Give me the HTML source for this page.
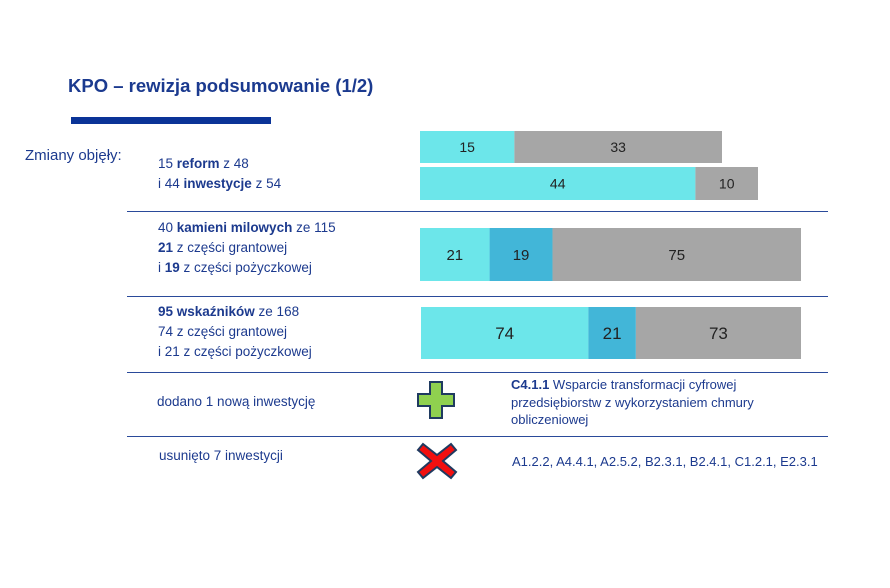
<!DOCTYPE html>
<html><head><meta charset="utf-8"><style>
body{margin:0;width:890px;height:588px;background:#fff;position:relative;overflow:hidden;font-family:"Liberation Sans",sans-serif;color:#1c3a8e}
.t{position:absolute;white-space:nowrap;font-size:13.5px;line-height:20px}
b{font-weight:bold}
.hr{position:absolute;left:127px;width:701px;height:1px;background:#2a4a9a}
</style></head><body>
<div class="t" style="left:68px;top:76px;font-size:18.5px;font-weight:bold;color:#1b3a8f">KPO – rewizja podsumowanie (1/2)</div>
<div style="position:absolute;left:71px;top:117px;width:200px;height:7px;background:#0a3397"></div>
<div class="t" style="left:25px;top:146px;font-size:15px">Zmiany objęły:</div>
<div class="t" style="left:158px;top:154px">15 <b>reform</b> z 48<br>i 44 <b>inwestycje</b> z 54</div>
<div class="t" style="left:158px;top:218px">40 <b>kamieni milowych</b> ze 115<br><b>21</b> z części grantowej<br>i <b>19</b> z części pożyczkowej</div>
<div class="t" style="left:158px;top:302px"><b>95 wskaźników</b> ze 168<br>74 z części grantowej<br>i 21 z części pożyczkowej</div>
<div class="t" style="left:157px;top:392px">dodano 1 nową inwestycję</div>
<div class="t" style="left:159px;top:446px">usunięto 7 inwestycji</div>
<div class="t" style="left:511px;top:376px;font-size:13px;line-height:17.5px"><b>C4.1.1</b> Wsparcie transformacji cyfrowej<br>przedsiębiorstw z wykorzystaniem chmury<br>obliczeniowej</div>
<div class="t" style="left:512px;top:452px;font-size:13px">A1.2.2, A4.4.1, A2.5.2, B2.3.1, B2.4.1, C1.2.1, E2.3.1</div>
<div class="hr" style="top:211px"></div>
<div class="hr" style="top:296px"></div>
<div class="hr" style="top:372px"></div>
<div class="hr" style="top:436px"></div>
<svg style="position:absolute;left:417px;top:381px" width="38" height="38"><polygon points="13,1 25,1 25,13 37,13 37,25 25,25 25,37 13,37 13,25 1,25 1,13 13,13" fill="#8fd14f" stroke="#1f3a60" stroke-width="2"/></svg>
<svg style="position:absolute;left:416px;top:442px" width="42" height="38"><polygon points="7,2 21,13 35,2 40,8 27,19 40,30 35,36 21,25 7,36 2,30 15,19 2,8" fill="#f20f0f" stroke="#1f3a60" stroke-width="2"/></svg>
<svg id="bars" style="position:absolute;left:0;top:0" width="890" height="588"></svg>
<script>
const rowTotals=[48,54,115,168];
const rowValues=[[15,33],[44,10],[21,19,75],[74,21,73]];
const rowColors=[["#6ce6ea","#a6a6a6"],["#6ce6ea","#a6a6a6"],["#6ce6ea","#42b6d8","#a6a6a6"],["#6ce6ea","#42b6d8","#a6a6a6"]];
const rowLayout=[{x:420,y:131,h:32,w:302,fs:14},{x:420,y:167,h:33,w:338,fs:14},{x:420,y:228,h:53,w:381,fs:15},{x:421,y:307,h:52,w:380,fs:17}];
const svg=document.getElementById('bars');const NS='http://www.w3.org/2000/svg';
rowValues.forEach((vals,i)=>{const L=rowLayout[i];const sc=v=>v/rowTotals[i]*L.w;let x=L.x;
vals.forEach((v,j)=>{const w=sc(v);const r=document.createElementNS(NS,'rect');


r.setAttribute('x',x);r.setAttribute('y',L.y);r.setAttribute('width',w);r.setAttribute('height',L.h);r.setAttribute('fill',rowColors[i][j]);svg.appendChild(r);
const t=document.createElementNS(NS,'text');


t.setAttribute('x',x+w/2);t.setAttribute('y',L.y+L.h/2+L.fs*0.36);t.setAttribute('text-anchor','middle');t.setAttribute('font-size',L.fs);t.setAttribute('fill','#222');t.setAttribute('font-family','Liberation Sans, sans-serif');t.textContent=v;svg.appendChild(t);x+=w;});});
</script>
</body></html>
